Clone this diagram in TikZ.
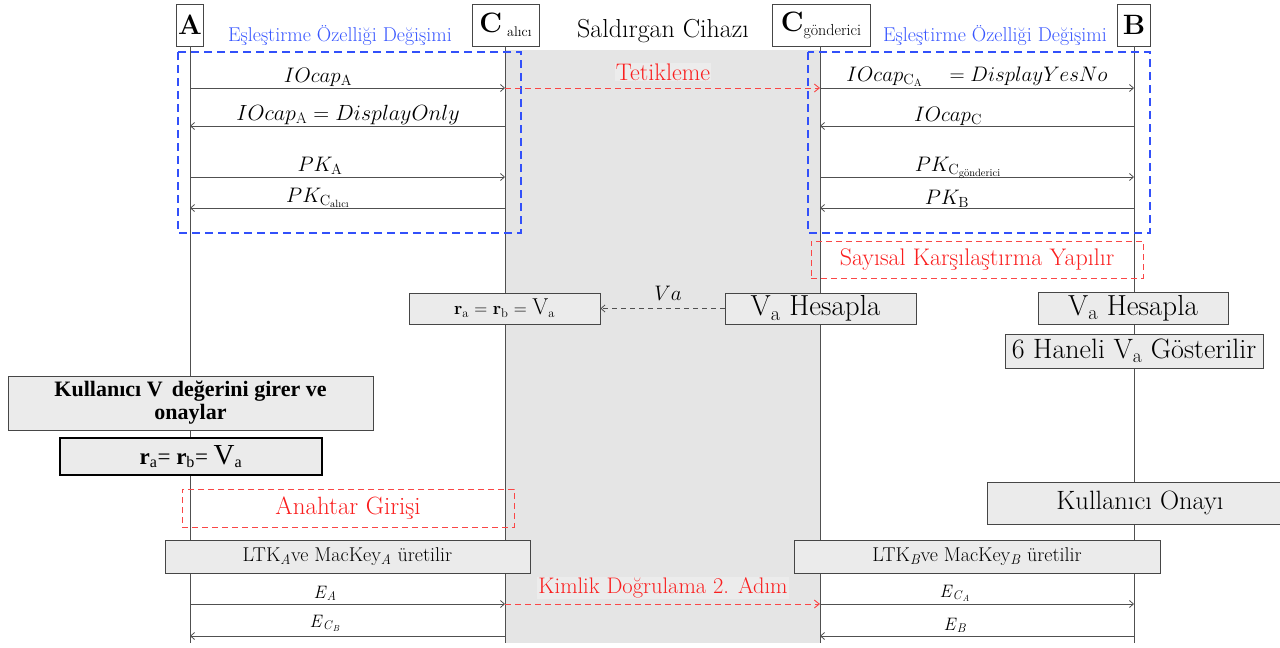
\RequirePackage{fix-cm}
\documentclass[tikz,border=0pt]{standalone}
\usepackage{amsmath}
\usepackage{fontspec}
\newfontfamily\timesf{Liberation Serif}
\usetikzlibrary{arrows.meta}
\definecolor{blueline}{RGB}{50,80,250}
\definecolor{bluetext}{RGB}{55,85,255}
\definecolor{redtext}{RGB}{250,30,30}
\definecolor{redline}{RGB}{250,70,70}
\definecolor{attack}{RGB}{229,229,229}
\definecolor{lblfill}{RGB}{236,236,236}
\definecolor{boxfill}{RGB}{235,235,235}
\definecolor{boxline}{RGB}{70,70,70}
\definecolor{lifecol}{RGB}{80,80,80}
\newcommand{\fs}[1]{\fontsize{#1}{#1}\selectfont}
\begin{document}
\begin{tikzpicture}[x=1pt,y=-1pt,
  life/.style={draw=lifecol, line width=0.8pt},
  msg/.style={draw=lifecol, line width=0.8pt, -{Straight Barb[length=4pt,width=7pt]}},
  vamsg/.style={draw=lifecol, line width=0.8pt, dash pattern=on 5pt off 4pt, -{Straight Barb[length=4pt,width=7pt]}},
  attackmsg/.style={draw=redline, line width=0.9pt, dash pattern=on 6pt off 4pt, -{Straight Barb[length=5pt,width=8pt]}},
  headbox/.style={draw=boxline, fill=white, line width=0.8pt, inner sep=0pt},
  procbox/.style={draw=boxline, fill=boxfill, line width=0.8pt, inner sep=0pt, align=center},
  bluebox/.style={draw=blueline, line width=1.8pt, dash pattern=on 8pt off 5pt},
  redbox/.style={draw=redline, line width=0.9pt, dash pattern=on 6pt off 4pt, inner sep=0pt, text=redtext},
  lbl/.style={inner sep=0pt, anchor=base},
  bluelbl/.style={inner sep=0pt, text=bluetext, font=\fs{20}},
  redlbl/.style={inner sep=1pt, text=redtext, fill=lblfill}
]
\useasboundingbox (0,0) rectangle (1280,648);
% attacker region
\fill[attack] (505,50) rectangle (820,643);

% headers
\node[headbox, minimum width=27, minimum height=42] (A) at (190,25) {\fs{28}\bfseries A};
\node[headbox, minimum width=67, minimum height=42] (Ca) at (505.5,25) {\fs{28}\bfseries C\hspace{5pt}\raisebox{-4pt}{\mdseries\fs{14}alıcı}};
\node[headbox, minimum width=98, minimum height=42] (Cg) at (821,25) {\fs{28}\bfseries C\raisebox{-4pt}{\mdseries\fs{16}gönderici}};
\node[headbox, minimum width=33, minimum height=42] (B) at (1134,25) {\fs{28}\bfseries B};
\node[inner sep=0pt] (title) at (663,31) {\fs{26}Saldırgan Cihazı};
\node[bluelbl] (blL) at (340,36) {Eşleştirme Özelliği Değişimi};
\node[bluelbl] (blR) at (995,36) {Eşleştirme Özelliği Değişimi};

% lifeline ends
\coordinate (Aend) at (190,643);
\coordinate (Caend) at (505,643);
\coordinate (Cgend) at (820,643);
\coordinate (Bend) at (1134,643);
\draw[life] (A.south) -- (Aend);
\draw[life] (505,46) -- (Caend);
\draw[life] (820,46) -- (Cgend);
\draw[life] (B.south) -- (Bend);

% message anchor points
\foreach \y/\n in {88/1,126/2,177/3,208/4,604/5,636/6}{
  \coordinate (A\n) at (190,\y);
  \coordinate (Ca\n) at (505,\y);
  \coordinate (Cg\n) at (820,\y);
  \coordinate (B\n) at (1134,\y);
}

% blue dashed groups
\draw[bluebox] (178,52) rectangle (521,233);
\draw[bluebox] (808,52) rectangle (1150,233);

% left messages
\draw[msg] (A1) -- (Ca1);
\draw[msg] (Ca2) -- (A2);
\draw[msg] (A3) -- (Ca3);
\draw[msg] (Ca4) -- (A4);
\node[lbl] (l1) at (318,82) {\fs{21}$IOcap_{\mathrm{A}}$};
\node[lbl] (l2) at (348,120) {\fs{22}$IOcap_{\mathrm{A}} = DisplayOnly$};
\node[lbl] (l3) at (320,171) {\fs{21}$PK_{\mathrm{A}}$};
\node[lbl] (l4) at (318,202) {\fs{21}$PK_{\mathrm{C}_{\text{alıcı}}}$};

% right messages
\draw[msg] (Cg1) -- (B1);
\draw[msg] (B2) -- (Cg2);
\draw[msg] (Cg3) -- (B3);
\draw[msg] (B4) -- (Cg4);
\node[lbl] (r1) at (977,81) {\fs{21}$IOcap_{\mathrm{C_A}}\quad = DisplayYesNo$};
\node[lbl] (r2) at (948,121) {\fs{21}$IOcap_{\mathrm{C}}$};
\node[lbl] (r3) at (958,171) {\fs{21}$PK_{\mathrm{C}_{\text{gönderici}}}$};
\node[lbl] (r4) at (947,204) {\fs{21}$PK_{\mathrm{B}}$};

% trigger
\draw[attackmsg] (Ca1) -- (Cg1);
\node[redlbl] (tet) at (663,72) {\fs{24}Tetikleme};

% numeric comparison
\node[redbox, minimum width=332, minimum height=37] (say) at (977,259.5) {\fs{24}Sayısal Karşılaştırma Yapılır};

% Va computation
\node[procbox, minimum width=191, minimum height=31] (rmid) at (504.5,308.5) {\fs{18}\textbf{r}\textsubscript{a} = \textbf{r}\textsubscript{b} = {\fs{23}V}\textsubscript{a}};
\node[procbox, minimum width=191, minimum height=31] (vaL) at (820.5,308.5) {\fs{29}V\textsubscript{a} Hesapla\hspace{10pt}};
\draw[vamsg] (vaL.west) -- (rmid.east);
\node[lbl] (valbl) at (668,300) {\fs{21}$Va$};
\node[procbox, minimum width=190, minimum height=32] (vaR) at (1133,308) {\fs{29}V\textsubscript{a} Hesapla};
\node[procbox, minimum width=258, minimum height=34] (six) at (1134,351) {\fs{28}6 Haneli V\textsubscript{a} Gösterilir};

% user entry on A
\node[procbox, minimum width=365, minimum height=54] (kul) at (190.5,403) {\timesf\fs{22}\bfseries Kullanıcı V\, değerini girer ve\\[2pt]\timesf\fs{22}\bfseries onaylar};
\node[procbox, draw=black, line width=1.4pt, minimum width=262, minimum height=37] (rL) at (191,456.5) {\timesf\fs{23}\textbf{r}\textsubscript{a}= \textbf{r}\textsubscript{b}= {\fs{29}V}\textsubscript{a}};

\node[redbox, minimum width=332, minimum height=38] (anah) at (348,508) {\fs{25}Anahtar Girişi};
\node[procbox, minimum width=298, minimum height=42] (onay) at (1136,503) {\hspace{8pt}\fs{26.5}Kullanıcı Onayı};

\node[procbox, minimum width=365, minimum height=33] (ltkA) at (347.5,556.5) {\fs{20}LTK\textsubscript{\textit{A}}ve MacKey\textsubscript{\textit{A}} üretilir};
\node[procbox, minimum width=366, minimum height=33] (ltkB) at (977,556.5) {\fs{20}LTK\textsubscript{\textit{B}}ve MacKey\textsubscript{\textit{B}} üretilir};

% auth step 2
\draw[msg] (A5) -- (Ca5);
\draw[msg] (Ca6) -- (A6);
\draw[msg] (Cg5) -- (B5);
\draw[msg] (B6) -- (Cg6);
\draw[attackmsg] (Ca5) -- (Cg5);
\node[redlbl] (kim) at (663,588) {\fs{22.5}Kimlik Doğrulama 2. Adım};
\node[lbl] (e1) at (325,598) {\fs{18}\textit{E}\textsubscript{\textit{A}}};
\node[lbl] (e2) at (325,627) {\fs{18}\textit{E}\textsubscript{\textit{C}\textsubscript{\textit{B}}}};
\node[lbl] (e3) at (955,597) {\fs{18}\textit{E}\textsubscript{\textit{C}\textsubscript{\textit{A}}}};
\node[lbl] (e4) at (955,630) {\fs{18}\textit{E}\textsubscript{\textit{B}}};
\end{tikzpicture}
\end{document}
